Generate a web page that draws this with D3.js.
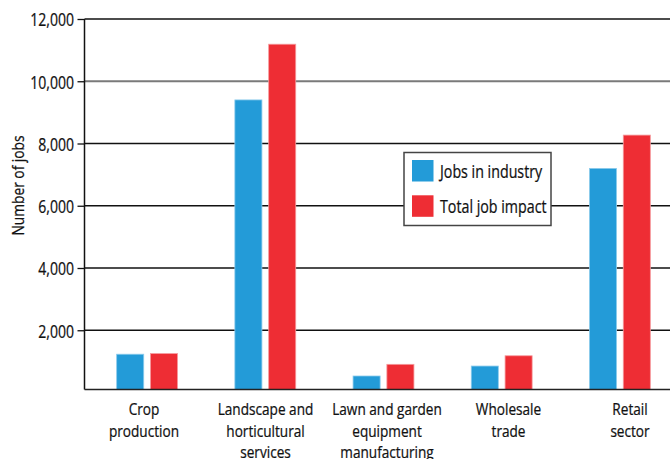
<!DOCTYPE html>
<html><head><meta charset="utf-8">
<script src="https://cdn.jsdelivr.net/npm/d3@7"></script>
<style>
body{margin:0;background:#fff;}
svg{display:block;}
text{font-family:"Open Sans","Noto Sans",sans-serif;fill:#111;stroke:#111;stroke-width:0.25px;}
</style></head><body>
<svg id="c" width="670" height="459"></svg>
<script>
const categories = [["Crop","production"],["Landscape and","horticultural","services"],["Lawn and garden","equipment","manufacturing"],["Wholesale","trade"],["Retail","sector"]];
const seriesNames = ["Jobs in industry","Total job impact"];
const jobsInIndustry = [1230, 9400, 530, 850, 7200];
const totalJobImpact = [1250, 11190, 905, 1180, 8270];
const yTicks = [2000, 4000, 6000, 8000, 10000, 12000];
const colors = ["#239bd8","#ee2d34"];
const strokes = ["#8ccbec","#f59a9d"];

(function(){
const svg = d3.select("#c");
const mLeft = 84.5, mRight = 670, mTop = 19, baseY = 389.5;
const y = d3.scaleLinear().domain([0,12000]).range([392.5, mTop]);
const x0 = d3.scaleBand().domain(d3.range(categories.length)).range([88, 679]).paddingInner(0.485).paddingOuter(0.2425);
const x1 = d3.scaleBand().domain([0,1]).range([0, x0.bandwidth()]).paddingInner(0.2);
const xl = d3.scaleBand().domain(d3.range(categories.length)).range([83.25, 690.75]);

// gridlines
svg.append("g").selectAll("line").data(yTicks).join("line")
  .attr("x1", mLeft).attr("x2", mRight)
  .attr("y1", d=>y(d)).attr("y2", d=>y(d))
  .attr("stroke", d=> d===10000 ? "#7a7a7a" : "#111")
  .attr("stroke-width", d=> d===10000 ? 1.8 : 1.3);

// y axis
const tickSx = 0.74;
const yAxis = d3.axisLeft(y).tickValues(yTicks).tickSize(7).tickPadding(3).tickFormat(d3.format(","));
const ga = svg.append("g").attr("transform",`translate(${mLeft},0)`).call(yAxis);
ga.select(".domain").remove();
ga.selectAll(".tick line").attr("stroke","#111").attr("stroke-width",1.3);
ga.selectAll(".tick text").attr("font-size","19px").attr("fill","#111")
  .style("font-family",'"Open Sans","Noto Sans",sans-serif')
  .attr("x", -10.5/tickSx).attr("dy","0.36em")
  .attr("transform",`scale(${tickSx},1)`);
svg.append("line").attr("x1",mLeft).attr("x2",mLeft).attr("y1",mTop).attr("y2",baseY)
  .attr("stroke","#111").attr("stroke-width",1.5);

// bars
const series = [jobsInIndustry, totalJobImpact];
series.forEach((vals, s) => {
  svg.append("g").selectAll("rect").data(vals).join("rect")
    .attr("x", (d,i)=> x0(i) + x1(s))
    .attr("width", x1.bandwidth())
    .attr("y", d=> y(d))
    .attr("height", d=> baseY - y(d))
    .attr("fill", colors[s])
    .attr("stroke", strokes[s]).attr("stroke-width", 0.8);
});

// baseline
svg.append("line").attr("x1",mLeft).attr("x2",mRight).attr("y1",baseY).attr("y2",baseY)
  .attr("stroke","#222").attr("stroke-width",1.5);

// category labels (one text element per line)
const cg = svg.append("g").selectAll("g").data(categories).join("g")
  .attr("transform",(d,i)=>`translate(${xl(i)+xl.bandwidth()/2},0)`);
cg.selectAll("text").data(d=>d).join("text")
  .attr("text-anchor","middle").attr("font-size","16.4px")
  .attr("transform",(d,j)=>`translate(0,${415 + j*21.7}) scale(0.83,1)`)
  .text(d=>d);

// y title
svg.append("text").attr("transform","translate(23.5,185.5) rotate(-90) scale(0.82,1)")
  .attr("text-anchor","middle").attr("font-size","16.8px").text("Number of jobs");

// legend
const lg = svg.append("g").attr("transform","translate(404,152.5)");
lg.append("rect").attr("width",147).attr("height",73).attr("fill","#fff")
  .attr("stroke","#444").attr("stroke-width",1.5);
seriesNames.forEach((n,i)=>{
  lg.append("rect").attr("x",8).attr("y",7.5+i*35.3).attr("width",21.5).attr("height",21.5).attr("fill",colors[i]);
  lg.append("text").attr("transform",`translate(36,${25.2+i*35.3}) scale(0.77,1)`)
    .attr("font-size","18.5px").text(n);
});
})();
</script></body></html>
